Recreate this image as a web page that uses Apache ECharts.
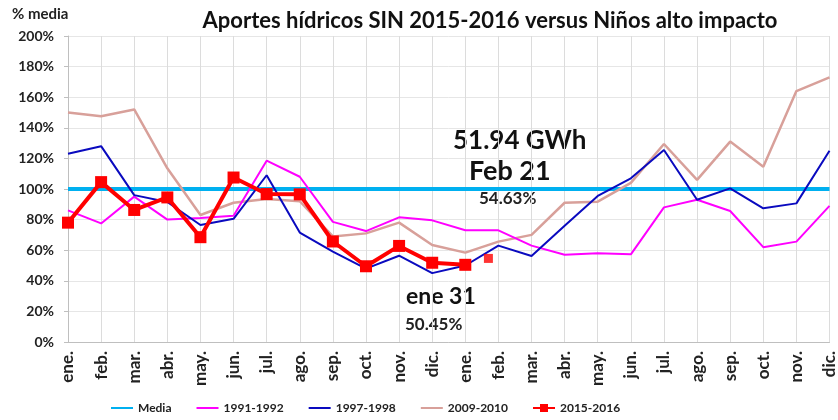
<!DOCTYPE html>
<html>
<head>
<meta charset="utf-8">
<script src="https://cdn.jsdelivr.net/npm/echarts@6/dist/echarts.min.js"></script>
<style>
  html, body { margin: 0; padding: 0; background: #fff; }
  #chart { width: 838px; height: 420px; }
</style>
</head>
<body>
<div id="chart"></div>
<script>
// meses (dos años seguidos)
const months = ['ene.', 'feb.', 'mar.', 'abr.', 'may.', 'jun.', 'jul.', 'ago.', 'sep.', 'oct.', 'nov.', 'dic.',
  'ene.', 'feb.', 'mar.', 'abr.', 'may.', 'jun.', 'jul.', 'ago.', 'sep.', 'oct.', 'nov.', 'dic.']

// % de la media
const media = [100, 100, 100, 100, 100, 100, 100, 100, 100, 100, 100, 100,
  100, 100, 100, 100, 100, 100, 100, 100, 100, 100, 100, 100]
const nino1991 = [86, 77.5, 95, 80, 81, 82.5, 118.5, 108, 78.5, 72.5, 81.5, 79.5,
  73, 73, 63, 57, 58, 57.3, 88, 93, 85.6, 62, 65.6, 89]
const nino1997 = [123, 128, 96, 91.5, 76.5, 80.5, 109, 71.5, 59, 48, 56.4, 45,
  50, 63, 56.2, 76, 95.5, 107, 125.5, 93, 100.4, 87.4, 90.6, 125]
const nino2009 = [150, 147.5, 152, 113.5, 83, 91, 93.5, 92, 69, 71, 78, 63.4,
  58.4, 65.6, 70, 91, 91.7, 104, 129.4, 106, 131, 114.6, 164, 173]
const serie2015 = [78, 104.5, 86.3, 94.5, 68.5, 107.5, 96.7, 96.5, 65.7, 49.5, 62.8, 51.8,
  50.45, null, null, null, null, null, null, null, null, null, null, null]
// dato parcial a 21 de febrero
const parcialFeb = [null, null, null, null, null, null, null, null, null, null, null, null,
  null, 54.63, null, null, null, null, null, null, null, null, null, null]

const yTicks = [0, 20, 40, 60, 80, 100, 120, 140, 160, 180, 200]

const chart = echarts.init(document.getElementById('chart'))
const bold = { fontFamily: 'Lato', fontWeight: 'bold', color: '#222' }
// solo la línea en la leyenda
const soloLinea = name => ({ name, itemStyle: { opacity: 0 } })

chart.setOption({
  animation: false,
  title: {
    text: 'Aportes hídricos SIN 2015-2016 versus Niños alto impacto',
    left: 485, top: 5, textAlign: 'center',
    textStyle: { fontFamily: 'Lato', fontWeight: 'bold', fontSize: 22, color: '#111' }
  },
  legend: {
    bottom: 1, left: 105, itemGap: 24, itemWidth: 22, itemHeight: 10,
    textStyle: { ...bold, fontSize: 12 },
    data: [soloLinea('Media'), soloLinea('1991-1992'), soloLinea('1997-1998'), soloLinea('2009-2010'), '2015-2016']
  },
  grid: { left: 68, right: 6, top: 36, bottom: 78 },
  xAxis: {
    type: 'category', data: months, boundaryGap: false,
    axisLine: { lineStyle: { color: '#bfbfbf' } },
    axisTick: { show: false },
    splitLine: { show: true, lineStyle: { color: '#dcdcdc' } },
    axisLabel: { ...bold, fontSize: 17, rotate: 90, margin: 9, interval: 0 }
  },
  yAxis: {
    type: 'value', min: 0, max: 200, interval: 20,
    axisLine: { show: true, lineStyle: { color: '#bfbfbf' } },
    axisTick: { show: true, length: 4, lineStyle: { color: '#bfbfbf' } },
    splitLine: { lineStyle: { color: '#e6e6e6' } },
    axisLabel: { ...bold, fontSize: 14, margin: 14, formatter: v => yTicks.includes(v) ? v + '%' : '' }
  },
  series: [
    { name: 'Media', type: 'line', data: media, symbol: 'none', z: 2,
      lineStyle: { color: '#00B0F0', width: 4 }, itemStyle: { color: '#00B0F0' } },
    { name: '1991-1992', type: 'line', data: nino1991, symbol: 'none', z: 3,
      lineStyle: { color: '#FF00FF', width: 2 }, itemStyle: { color: '#FF00FF' } },
    { name: '1997-1998', type: 'line', data: nino1997, symbol: 'none', z: 3,
      lineStyle: { color: '#0A0ABF', width: 2 }, itemStyle: { color: '#0A0ABF' } },
    { name: '2009-2010', type: 'line', data: nino2009, symbol: 'none', z: 2,
      lineStyle: { color: '#D8A09A', width: 2.5 }, itemStyle: { color: '#D8A09A' } },
    { name: '2015-2016', type: 'line', data: serie2015, symbol: 'rect', symbolSize: 12, z: 5,
      lineStyle: { color: '#FF0000', width: 4 }, itemStyle: { color: '#FF0000' } },
    { name: 'parcial', type: 'scatter', data: parcialFeb, symbol: 'rect', symbolSize: 9,
      symbolOffset: [-10, 0], z: 5, itemStyle: { color: '#FF0000' } }
  ],
  graphic: [
    { type: 'text', left: 12, top: 7, style: { text: '% media', font: 'bold 15px Lato', fill: '#222' } },
    { type: 'text', left: 453, top: 128, style: { text: '51.94 GWh', font: 'bold 26px Lato', fill: '#111' } },
    { type: 'text', left: 469, top: 158, style: { text: 'Feb 21', font: 'bold 27px Lato', fill: '#111' } },
    { type: 'text', left: 479, top: 190, style: { text: '54.63%', font: 'bold 17px Lato', fill: '#222' } },
    { type: 'text', left: 406, top: 285, style: { text: 'ene 31', font: 'bold 23px Lato', fill: '#111' } },
    { type: 'text', left: 405, top: 316, style: { text: '50.45%', font: 'bold 17px Lato', fill: '#222' } }
  ]
})
</script>
</body>
</html>
